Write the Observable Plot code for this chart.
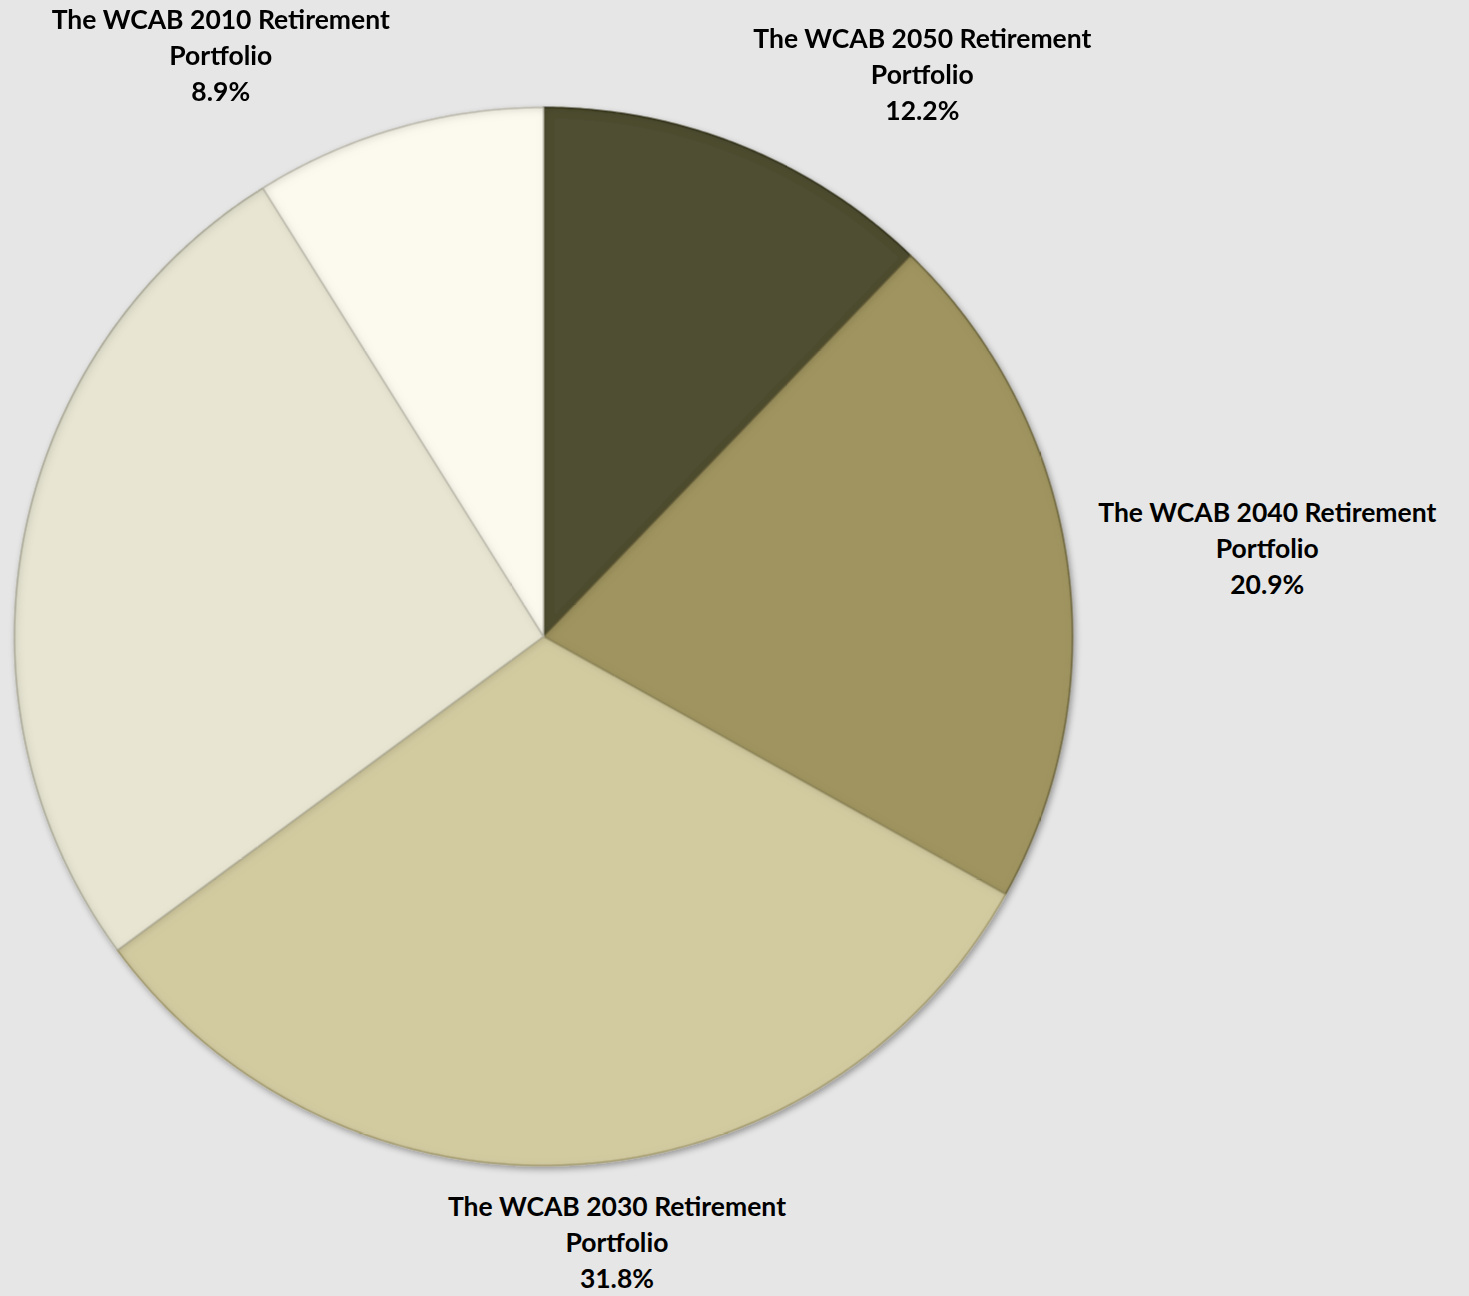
<!DOCTYPE html>
<html>
<head>
<meta charset="utf-8">
<script src="https://cdn.jsdelivr.net/npm/d3@7"></script>
<script src="https://cdn.jsdelivr.net/npm/@observablehq/plot@0.6"></script>
<style>
  html, body { margin: 0; padding: 0; background: #e6e6e6; }
  #chart svg { display: block; }
</style>
</head>
<body>
<div id="chart"></div>
<script>
// ---- data (clockwise from 12 o'clock) ----
const categories = [
  "The WCAB 2050 Retirement Portfolio",
  "The WCAB 2040 Retirement Portfolio",
  "The WCAB 2030 Retirement Portfolio",
  "The WCAB 2020 Retirement Portfolio",
  "The WCAB 2010 Retirement Portfolio"
];
const shares = [12.2, 20.9, 31.8, 26.2, 8.9];
const sliceColors = ["#4f4e31", "#a09560", "#d3cba0", "#e8e6d3", "#fcf9ee"];
const edgeColors = ["#36351f", "#6f6740", "#a89f72", "#b8b6a2", "#c9c6b8"];

// ---- layout ----
const W = 1469, H = 1296;
const mLeft = 14, mTop = 107;
const R = 529; // pixel radius
const mRight = W - mLeft - 2 * R, mBottom = H - mTop - 2 * R;
const fontSize = 26.5, lineGap = 36;
const fontFamily = "Lato, 'Open Sans', sans-serif";

// ---- slice polygons from the shares ----
const total = d3.sum(shares);
const slices = [];
let cum = 0;
categories.forEach((name, i) => {
  const a0 = cum / total * 2 * Math.PI;
  cum += shares[i];
  const a1 = cum / total * 2 * Math.PI;
  const n = Math.max(2, Math.ceil((a1 - a0) / (Math.PI / 360)));
  slices.push({name, x: 0, y: 0});
  for (let k = 0; k <= n; k++) {
    const a = a0 + (a1 - a0) * k / n;
    slices.push({name, x: Math.sin(a), y: Math.cos(a)});
  }
  slices.push({name, x: 0, y: 0});
});

// ---- label placement (outside end, Excel-like) ----
const ctx = document.createElement("canvas").getContext("2d");
ctx.font = `bold ${fontSize}px ${fontFamily}`;
const labels = [];
cum = 0;
categories.forEach((name, i) => {
  const mid = (cum + shares[i] / 2) / total * 2 * Math.PI;
  cum += shares[i];
  const lines = [name.replace(/ Portfolio$/, ""), "Portfolio", shares[i].toFixed(1) + "%"];
  const boxW = d3.max(lines, l => ctx.measureText(l).width) / R;
  const boxH = (2 * lineGap + fontSize * 1.0) / R;
  const s = Math.sin(mid), c = Math.cos(mid);
  const px = 1.06 * s, py = 1.05 * c;
  const fx = Math.max(0, Math.min(1, 0.5 - 1.8 * s));
  const fy = Math.max(0, Math.min(1, 0.5 + 0.6 * c));
  const cx = px + (0.5 - fx) * boxW;
  const cy = py - (0.5 - fy) * boxH;
  // keep only labels that fit inside the chart area (Excel clips the rest)
  const leftPx = mLeft + (cx + 1) * R - boxW * R / 2;
  const rightPx = leftPx + boxW * R;
  if (leftPx >= 0 && rightPx <= W) labels.push({name, text: lines.join("\n"), x: cx, y: cy});
});

const plot = Plot.plot({
  width: W,
  height: H,
  marginLeft: mLeft, marginRight: mRight, marginTop: mTop, marginBottom: mBottom,
  x: {domain: [-1, 1], axis: null},
  y: {domain: [-1, 1], axis: null},
  color: {domain: categories, range: sliceColors},
  style: {background: "#e6e6e6", overflow: "visible"},
  marks: [
    Plot.line(slices, {
      x: "x", y: "y", z: "name", sort: null,
      fill: "name",
      stroke: d => edgeColors[categories.indexOf(d.name)],
      strokeWidth: 1.5, strokeLinejoin: "round"
    }),
    Plot.text(labels, {
      x: "x", y: "y", text: "text",
      textAnchor: "middle", lineAnchor: "middle",
      lineHeight: lineGap / fontSize,
      fontSize, fontWeight: "bold", fontFamily, fill: "#000"
    })
  ]
});

// bevel (inner edge shading per slice) + soft drop shadow for the whole pie
const defs = d3.select(plot).insert("defs", ":first-child");
const f = defs.append("filter").attr("id", "pieShadow")
  .attr("x", "-10%").attr("y", "-10%").attr("width", "120%").attr("height", "120%");
f.append("feDropShadow").attr("dx", 2).attr("dy", 3).attr("stdDeviation", 3)
  .attr("flood-color", "#000").attr("flood-opacity", 0.35);

const b = defs.append("filter").attr("id", "bevel")
  .attr("x", "-5%").attr("y", "-5%").attr("width", "110%").attr("height", "110%");
b.append("feGaussianBlur").attr("in", "SourceAlpha").attr("stdDeviation", 4).attr("result", "blur");
b.append("feOffset").attr("in", "blur").attr("dx", 1.5).attr("dy", 1.5).attr("result", "blurOff");
b.append("feComposite").attr("in", "SourceAlpha").attr("in2", "blurOff")
  .attr("operator", "arithmetic").attr("k2", 1).attr("k3", -1).attr("result", "edge");
b.append("feFlood").attr("flood-color", "#000").attr("flood-opacity", 0.3);
b.append("feComposite").attr("in2", "edge").attr("operator", "in").attr("result", "shade");
const bm = b.append("feMerge");
bm.append("feMergeNode").attr("in", "SourceGraphic");
bm.append("feMergeNode").attr("in", "shade");

const lineG = d3.select(plot).selectAll('g[aria-label="line"]');
lineG.attr("filter", "url(#pieShadow)");
lineG.selectAll("path").attr("filter", "url(#bevel)");

document.getElementById("chart").appendChild(plot);
</script>
</body>
</html>
